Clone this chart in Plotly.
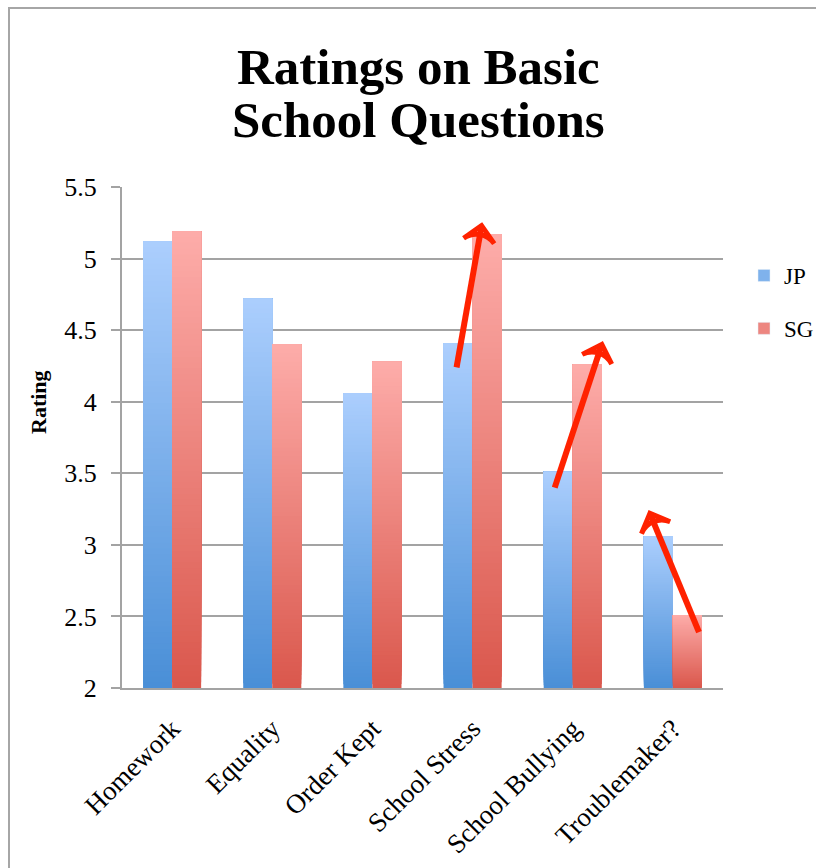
import plotly.graph_objects as go

# Survey ratings by question, two groups
categories = ["Homework", "Equality", "Order Kept", "School Stress",
              "School Bullying", "Troublemaker?"]
jp_ratings = [5.12, 4.72, 4.06, 4.41, 3.51, 3.06]
sg_ratings = [5.19, 4.40, 4.28, 5.17, 4.26, 2.51]
y_ticks = [2, 2.5, 3, 3.5, 4, 4.5, 5, 5.5]

# Highlight arrows (tail -> tip) in category-index / rating coordinates
arrow_tails = [(2.84, 4.24), (3.82, 3.40), (5.26, 2.39)]
arrow_tips = [(3.09, 5.23), (4.29, 4.40), (4.77, 3.22)]

BASE = 2.0
N_STEPS = 80
SERIF = "Liberation Serif"
GRID = "#a3a3a3"
ARROW = "#ff2200"

# plot area geometry (pixels)
W, H = 816, 868
ML, MR, MT, MB = 122, 93, 187, 180
PW, PH = W - ML - MR, H - MT - MB


def px_x(px):
    return (px - ML) / PW


def px_y(py):
    return (H - MB - py) / PH


def mix(c1, c2, t):
    a = [int(c1[i:i + 2], 16) for i in (1, 3, 5)]
    b = [int(c2[i:i + 2], 16) for i in (1, 3, 5)]
    return "rgb({},{},{})".format(*[round(a[j] + (b[j] - a[j]) * t) for j in range(3)])


series = [
    ("JP", jp_ratings, "#4a8fd7", "#abcefd"),
    ("SG", sg_ratings, "#da584d", "#fdaca9"),
]

x_idx = list(range(len(categories)))
fig = go.Figure()

# Vertical gradient: each layer starts a bit higher and is drawn over the
# previous one, all reaching the bar's value
for name, vals, bottom_col, top_col in series:
    for k in range(N_STEPS):
        col = mix(bottom_col, top_col, k / (N_STEPS - 1))
        bases = [BASE + (v - BASE) * k / N_STEPS for v in vals]
        fig.add_bar(
            x=x_idx,
            y=[v - b for v, b in zip(vals, bases)],
            base=bases,
            offsetgroup=name,
            marker=dict(color=col, line=dict(width=0)),
            showlegend=False,
            hoverinfo="skip",
        )
    # legend entry
    fig.add_bar(
        x=x_idx,
        y=[None] * len(vals),
        offsetgroup=name,
        name=name,
        legendgroup=name,
        marker=dict(color=mix(bottom_col, top_col, 0.55)),
    )

for (x0, y0), (x1, y1) in zip(arrow_tails, arrow_tips):
    fig.add_scatter(
        x=[x0, x1],
        y=[y0, y1],
        mode="lines+markers",
        line=dict(color=ARROW, width=6),
        marker=dict(
            symbol=["circle", "arrow-wide-open"],
            size=[0, 22],
            opacity=[0, 1],
            angleref="previous",
            color=ARROW,
            line=dict(color=ARROW, width=5),
        ),
        showlegend=False,
        hoverinfo="skip",
    )

title_font = dict(family=SERIF, size=51, color="black", weight="bold")

fig.update_layout(
    width=W,
    height=H,
    margin=dict(l=ML, r=MR, t=MT, b=MB, autoexpand=False),
    paper_bgcolor="white",
    plot_bgcolor="white",
    barmode="group",
    bargap=0.42,
    bargroupgap=0,
    legend=dict(
        x=px_x(744),
        xanchor="left",
        y=px_y(254),
        yanchor="top",
        font=dict(family=SERIF, size=23, color="black"),
        tracegroupgap=20,
        traceorder="grouped",
        bgcolor="rgba(0,0,0,0)",
    ),
    annotations=[
        dict(text="Ratings on Basic", xref="paper", yref="paper",
             x=px_x(418), y=px_y(67), xanchor="center", yanchor="middle",
             showarrow=False, font=title_font),
        dict(text="School Questions", xref="paper", yref="paper",
             x=px_x(418), y=px_y(120), xanchor="center", yanchor="middle",
             showarrow=False, font=title_font),
        dict(text="Rating", xref="paper", yref="paper",
             x=px_x(38), y=px_y(402), xanchor="center", yanchor="middle",
             textangle=-90, showarrow=False,
             font=dict(family=SERIF, size=22, color="black", weight="bold")),
    ],
    shapes=[
        dict(
            type="rect", xref="paper", yref="paper",
            x0=px_x(9), x1=px_x(840),
            y0=px_y(900), y1=px_y(8),
            line=dict(color="#a6a6a6", width=2),
            layer="below",
        )
    ],
)

fig.update_xaxes(
    range=[-0.5, len(categories) - 0.5],
    tickmode="array",
    tickvals=x_idx,
    ticktext=categories,
    tickangle=-45,
    showgrid=False,
    zeroline=False,
    showline=True,
    linecolor=GRID,
    linewidth=2,
    ticks="",
    ticklabelstandoff=12,
    tickfont=dict(family=SERIF, size=27, color="black"),
)
fig.update_yaxes(
    range=[2, 5.5],
    tickmode="array",
    tickvals=y_ticks,
    ticktext=[f"{t:g}" for t in y_ticks],
    showgrid=True,
    gridcolor=GRID,
    gridwidth=2,
    zeroline=False,
    showline=True,
    linecolor=GRID,
    linewidth=2,
    ticks="outside",
    ticklen=9,
    tickwidth=2,
    tickcolor=GRID,
    ticklabelstandoff=9,
    tickfont=dict(family=SERIF, size=26, color="black"),
)

fig.write_html("out.html")
